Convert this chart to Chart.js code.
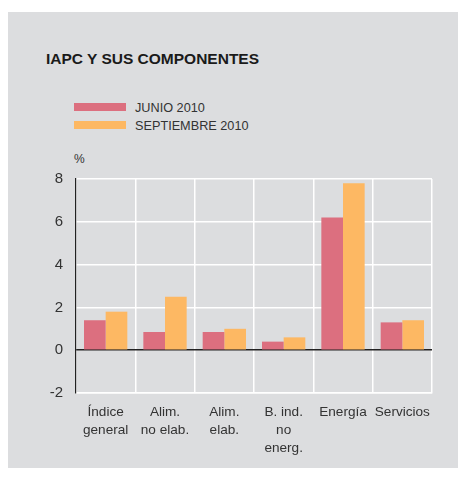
<!DOCTYPE html>
<html>
<head>
<meta charset="utf-8">
<script src="https://cdn.jsdelivr.net/npm/chart.js@4"></script>
<style>
  body { margin: 0; background: #fff; font-family: "Liberation Sans", Arial, sans-serif; }
  #panel { position: absolute; left: 8px; top: 12px; width: 450px; height: 456px; background: #dcdddf; }
  #title { position: absolute; left: 46px; top: 50px; font-size: 15.5px; font-weight: bold; color: #1a1a1a; }
  .leg { position: absolute; left: 74px; font-size: 12.7px; color: #333; line-height: 16px; }
  .leg span { display: inline-block; width: 52px; height: 8px; margin-right: 9px; vertical-align: 1px; }
  #pct { position: absolute; left: 74px; top: 152px; font-size: 12px; color: #333; }
  #wrap { position: absolute; left: 0; top: 0; width: 467px; height: 481px; }
</style>
</head>
<body>
<div id="panel"></div>
<div id="title">IAPC Y SUS COMPONENTES</div>
<div id="legend"></div>
<div id="pct">%</div>
<div id="wrap"><canvas id="chart"></canvas></div>
<script>
const categories = [
  ["Índice", "general"],
  ["Alim.", "no elab."],
  ["Alim.", "elab."],
  ["B. ind.", "no", "energ."],
  ["Energía"],
  ["Servicios"],
];
const seriesNames = ["JUNIO 2010", "SEPTIEMBRE 2010"];
const junio = [1.4, 0.85, 0.85, 0.4, 6.2, 1.3];
const septiembre = [1.8, 2.5, 1.0, 0.6, 7.8, 1.4];
const colors = ["#dc6f7f", "#fdb863"];

// leyenda en HTML
const legend = document.getElementById("legend");
seriesNames.forEach((name, i) => {
  const d = document.createElement("div");
  d.className = "leg";
  d.style.top = 100 + i * 18 + "px";
  d.innerHTML = `<span style="background:${colors[i]}"></span>${name}`;
  legend.appendChild(d);
});

new Chart(document.getElementById("chart"), {
  type: "bar",
  data: {
    labels: categories,
    datasets: [
      { label: seriesNames[0], data: junio, backgroundColor: colors[0] },
      { label: seriesNames[1], data: septiembre, backgroundColor: colors[1] },
    ],
  },
  options: {
    responsive: true,
    maintainAspectRatio: false,
    animation: false,
    layout: { padding: { top: 179, right: 35, left: 0, bottom: 0 } },
    datasets: { bar: { categoryPercentage: 0.73, barPercentage: 1 } },
    plugins: { legend: { display: false }, tooltip: { enabled: false } },
    scales: {
      x: {
        afterFit: (s) => { s.height = 88; },
        grid: { color: "#ffffff", lineWidth: 1.5, drawTicks: false },
        border: { color: "#ffffff", width: 1.5 },
        ticks: {
          color: "#333",
          font: { family: "Liberation Sans", size: 13.6, lineHeight: 1.33 },
          padding: 10,
          maxRotation: 0,
          autoSkip: false,
        },
      },
      y: {
        min: -2,
        max: 8,
        afterFit: (s) => { s.width = 76; },
        grid: {
          color: (c) => (c.tick && c.tick.value === 0 ? "#222" : "#ffffff"),
          lineWidth: 1.5,
          drawTicks: false,
        },
        border: { color: "#222", width: 1.2 },
        ticks: {
          stepSize: 2,
          color: "#333",
          font: { family: "Liberation Sans", size: 15 },
          padding: 13,
        },
      },
    },
  },
});
</script>
</body>
</html>
